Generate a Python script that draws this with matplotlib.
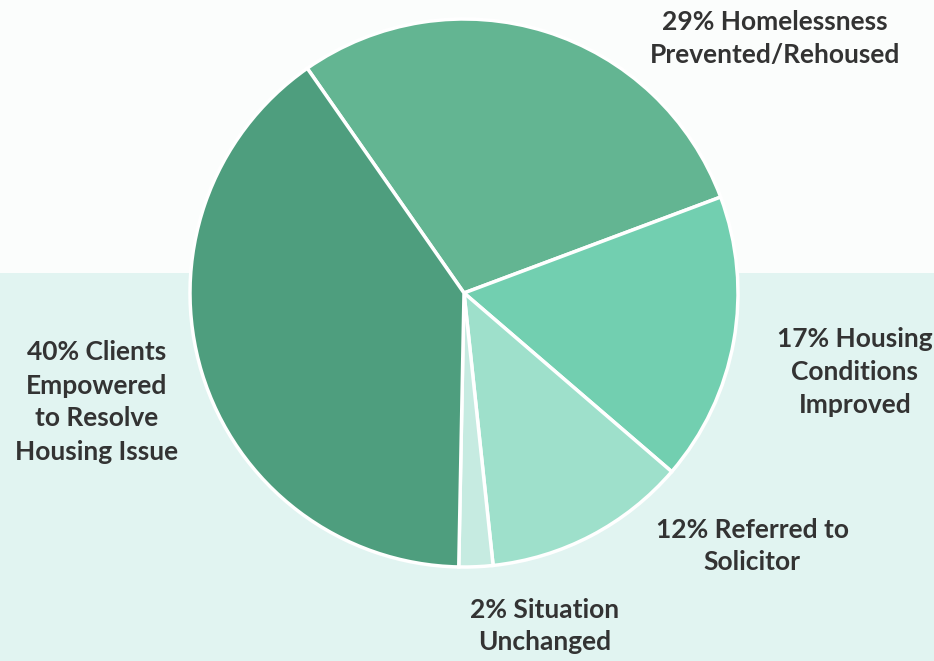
import matplotlib
matplotlib.use("Agg")
import matplotlib.pyplot as plt
from matplotlib.patches import Rectangle

labels = ["29% Homelessness\nPrevented/Rehoused",
          "17% Housing\nConditions\nImproved",
          "12% Referred to\nSolicitor",
          "2% Situation\nUnchanged",
          "40% Clients\nEmpowered\nto Resolve\nHousing Issue"]
values = [29, 17, 12, 2, 40]
colors = ["#63b592", "#72cfb0", "#9ee0cb", "#c6ebe1", "#4e9e7e"]

W, H = 934, 661
fig = plt.figure(figsize=(W / 100, H / 100), dpi=100)
fig.patch.set_facecolor("#fbfdfc")

ax = fig.add_axes([0, 0, 1, 1])
ax.set_facecolor("none")
ax.add_patch(Rectangle((0, 0), W, H - 273, facecolor="#e1f4f1",
                       edgecolor="none", zorder=-5))
cx, cy, r = 464, H - 293, 274
ax.pie(values, colors=colors, startangle=124.9, counterclock=False,
       center=(cx, cy), radius=r,
       wedgeprops=dict(edgecolor="white", linewidth=2.5))
ax.set_xlim(0, W)
ax.set_ylim(0, H)
ax.set_aspect("equal")
ax.axis("off")

pos = [(775, 38), (855, 372), (752, 546), (545, 626), (97, 402)]
for lab, (x, y) in zip(labels, pos):
    ax.text(x, H - y, lab, ha="center", va="center", fontsize=19,
            family="Lato", fontweight="bold", color="#333333", linespacing=1.45)

fig.savefig("out.png", dpi=100)
